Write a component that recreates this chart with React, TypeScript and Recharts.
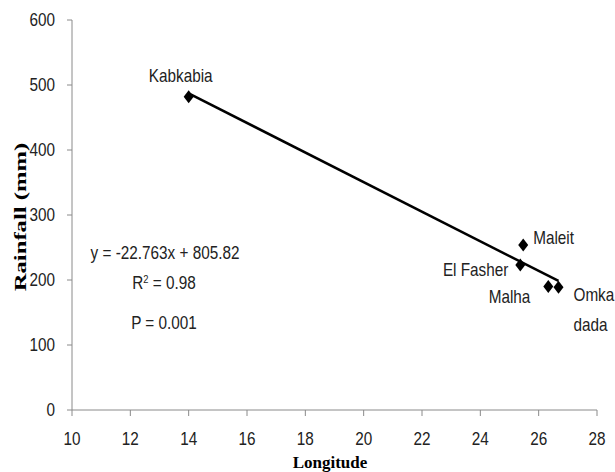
import React from 'react';
import { ScatterChart, Scatter, XAxis, YAxis, ReferenceLine } from 'recharts';

const stations = ['Kabkabia', 'Maleit', 'El Fasher', 'Malha', 'Omka dada'];
const longitude = [14.0, 25.47, 25.37, 26.33, 26.68];
const rainfall = [482, 254, 223, 190, 189];

const xTicks = [10, 12, 14, 16, 18, 20, 22, 24, 26, 28];
const yTicks = [0, 100, 200, 300, 400, 500, 600];

const slope = -22.763;
const intercept = 805.82;
const rSquared = '0.98';
const pValue = '0.001';

const data = stations.map((name, i) => ({ name, x: longitude[i], y: rainfall[i] }));
const xMin = Math.min(...longitude);
const xMax = Math.max(...longitude);

const labelFont = '"Liberation Sans", Arial, sans-serif';
const titleFont = '"Liberation Serif", "Times New Roman", serif';
const squeeze = 0.85; // the original uses a narrow font

// where each station's name sits relative to its marker
const labelPlacement: Record<string, { dx: number; dy: number; anchor: string }> = {
  'Kabkabia': { dx: -8, dy: -15, anchor: 'middle' },
  'Maleit': { dx: 10, dy: -1, anchor: 'start' },
  'El Fasher': { dx: -12, dy: 11, anchor: 'end' },
  'Malha': { dx: -18, dy: 16, anchor: 'end' },
  'Omka dada': { dx: 15, dy: 14, anchor: 'start' },
};

const Diamond = (props: any) => {
  const { cx, cy, payload } = props;
  const p = labelPlacement[payload.name];
  const lines = payload.name === 'Omka dada' ? ['Omka', 'dada'] : [payload.name];
  return (
    <g>
      <path d={`M${cx},${cy - 6.5} L${cx + 5},${cy} L${cx},${cy + 6.5} L${cx - 5},${cy} Z`} fill="#000" />
      <g transform={`translate(${cx + p.dx},${cy + p.dy}) scale(${squeeze},1)`}>
        <text x={0} y={0} textAnchor={p.anchor} fontFamily={labelFont} fontSize={18} fill="#222">
          {lines.map((l, i) => (
            <tspan key={l} x={0} dy={i === 0 ? 0 : 30}>{l}</tspan>
          ))}
        </text>
      </g>
    </g>
  );
};

const XTick = (props: any) => {
  const { x, y, payload } = props;
  return (
    <g transform={`translate(${x},${y}) scale(${squeeze},1)`}>
      <text x={0} y={0} dy="0.71em" textAnchor="middle" fontFamily={labelFont} fontSize={18} fill="#222">
        {payload.value}
      </text>
    </g>
  );
};

const YTick = (props: any) => {
  const { x, y, payload } = props;
  return (
    <g transform={`translate(${x},${y}) scale(${squeeze},1)`}>
      <text x={0} y={0} dy="0.355em" textAnchor="end" fontFamily={labelFont} fontSize={18} fill="#222">
        {payload.value}
      </text>
    </g>
  );
};

const note: React.CSSProperties = {
  position: 'absolute',
  fontFamily: labelFont,
  fontSize: 18,
  color: '#222',
  whiteSpace: 'nowrap',
  lineHeight: 1,
};

export default function App() {
  return (
    <div style={{ position: 'absolute', left: 0, top: 0, width: 615, height: 472, background: '#fff' }}>
      <ScatterChart width={615} height={472} margin={{ top: 20, right: 18, bottom: 32, left: 32 }}>
        <XAxis
          type="number"
          dataKey="x"
          domain={[10, 28]}
          ticks={xTicks}
          tickSize={6}
          tickMargin={16}
          stroke="#8a8a8a"
          tick={<XTick />}
          height={30}
        />
        <YAxis
          type="number"
          dataKey="y"
          domain={[0, 600]}
          ticks={yTicks}
          tickSize={5}
          tickMargin={12}
          stroke="#8a8a8a"
          tick={<YTick />}
          width={40}
        />
        <ReferenceLine
          segment={[
            { x: xMin, y: slope * xMin + intercept },
            { x: xMax, y: slope * xMax + intercept },
          ]}
          stroke="#000"
          strokeWidth={2.5}
          ifOverflow="visible"
        />
        <Scatter data={data} shape={<Diamond />} isAnimationActive={false} />
      </ScatterChart>
      <div
        style={{
          position: 'absolute', left: 330, top: 462,
          transform: 'translate(-50%, -50%)',
          fontFamily: titleFont, fontWeight: 'bold', fontSize: 17, whiteSpace: 'nowrap', color: '#000', lineHeight: 1,
        }}
      >
        Longitude
      </div>
      <div
        style={{
          position: 'absolute', left: 20, top: 217,
          transform: 'translate(-50%, -50%) rotate(-90deg) scaleX(1.45)',
          fontFamily: titleFont, fontWeight: 'bold', fontSize: 17, whiteSpace: 'nowrap', color: '#000', lineHeight: 1,
        }}
      >
        Rainfall (mm)
      </div>
      <div style={{ ...note, left: 165, top: 253, transform: `translate(-50%, -50%) scaleX(${squeeze})` }}>
        y = {slope}x + {intercept}
      </div>
      <div style={{ ...note, left: 164, top: 283, transform: `translate(-50%, -50%) scaleX(${squeeze})` }}>
        R<sup style={{ fontSize: 11, verticalAlign: 'top' }}>2</sup> = {rSquared}
      </div>
      <div style={{ ...note, left: 164, top: 323, transform: `translate(-50%, -50%) scaleX(${squeeze})` }}>
        P = {pValue}
      </div>
    </div>
  );
}
